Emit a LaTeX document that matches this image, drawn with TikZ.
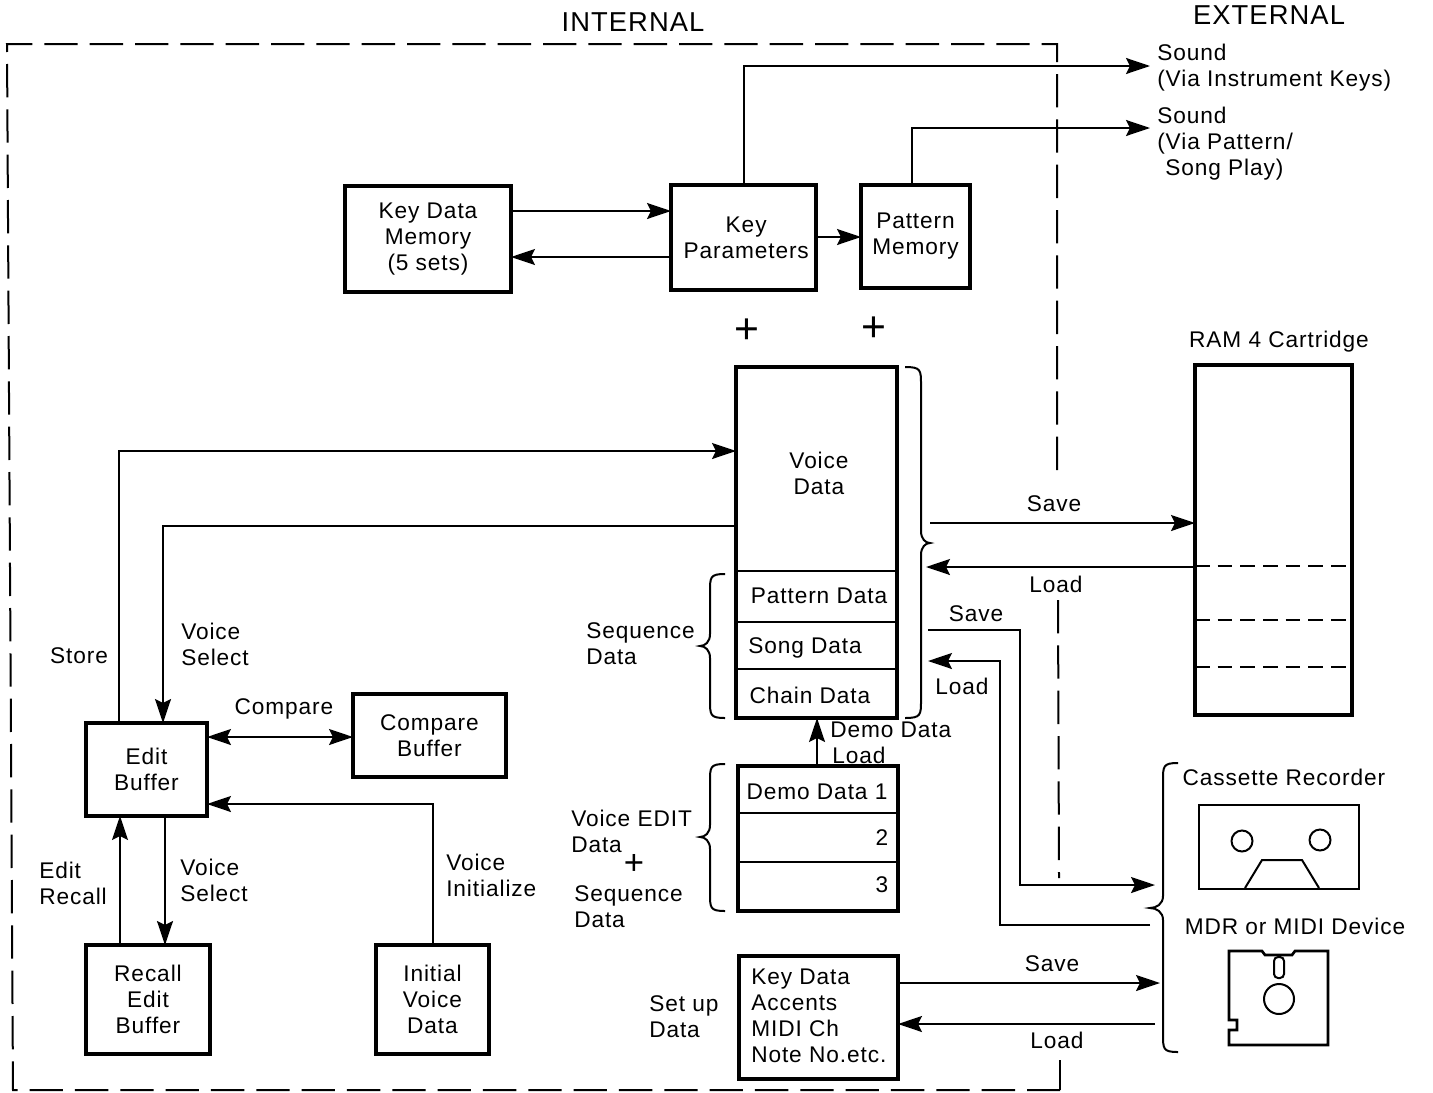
\documentclass[tikz,border=0pt]{standalone}
\usepackage{fontspec}
\setmainfont[LetterSpace=4]{Liberation Sans}
\usetikzlibrary{arrows.meta}
\newcommand{\bxn}[6]{\node[boxs,minimum width={(#4-#2)*0.75pt},minimum height={(#5-#3)*0.75pt}] (#1) at ({(#2+#4)/2},{(#3+#5)/2}) {#6};}
% start x, spine x, tip x, top y, mid y, bottom y
\newcommand{\vbrace}[6]{\draw[brc] (#1,#4) .. controls (#2,#4) and (#2,{#4+3}) .. (#2,{#4+18}) -- (#2,{#5-12}) .. controls (#2,{#5-4}) and ({(#2+#3)/2},#5) .. (#3,#5) .. controls ({(#2+#3)/2},#5) and (#2,{#5+4}) .. (#2,{#5+12}) -- (#2,{#6-18}) .. controls (#2,{#6-3}) and (#2,#6) .. (#1,#6);}
\tikzset{
  txtf/.style={font=\fontsize{17}{19.5}\selectfont},
  boxs/.style={draw,line width=3pt,inner sep=0pt,outer sep=0pt,align=center,txtf},
  lbl/.style={txtf,inner sep=0pt,align=left},
  lblw/.style={lbl,anchor=west},
  wire/.style={line width=1.5pt},
  arr/.style={wire,-{Stealth[length=18pt,width=12pt,inset=3pt]}},
  dbl/.style={wire,{Stealth[length=18pt,width=12pt,inset=3pt]}-{Stealth[length=18pt,width=12pt,inset=3pt]}},
  bound/.style={line width=1.5pt,dash pattern=on 25pt off 9pt},
  divd/.style={line width=1.2pt,dash pattern=on 11pt off 6pt},
  divs/.style={line width=2pt},
  brc/.style={line width=1.5pt},
  hd/.style={font=\fontsize{20.5}{22}\selectfont,inner sep=0pt},
  plusn/.style={font=\fontsize{32}{32}\selectfont,inner sep=0pt}
}
\begin{document}
\begin{tikzpicture}[x=0.75pt,y=-0.75pt]
\useasboundingbox (0,0) rectangle (1433,1092);
% boundary
\coordinate (b1) at (1057,470);
\coordinate (b2) at (1057,44);
\coordinate (b3) at (7,44);
\coordinate (b4) at (13,1090);
\coordinate (b5) at (1060,1090);
\coordinate (b6) at (1060,1060);
\coordinate (b7) at (1058,600);
\coordinate (b8) at (1059,878);
\draw[bound] (b1) -- (b2) -- (b3) -- (b4) -- (b5);
\draw[wire] (b5) -- (b6);
\draw[bound] (b7) -- (b8);
% headings
\node[hd] (internal) at (633,22) {INTERNAL};
\node[hd] (external) at (1269,15) {EXTERNAL};
% boxes
\bxn{kd}{345}{186}{511}{292}{Key Data\\Memory\\(5 sets)}
\bxn{kp}{671}{185}{816}{290}{\hspace*{4pt}Key\\\hspace*{4pt}Parameters}
\bxn{pm}{861}{185}{970}{288}{Pattern\\Memory}
\bxn{vs}{736}{367}{897}{718}{}
\bxn{ds}{738}{766}{898}{911}{}
\bxn{su}{739}{956}{898}{1079}{}
\bxn{eb}{86}{723}{207}{816}{Edit\\Buffer}
\bxn{cb}{353}{694}{506}{777}{Compare\\Buffer}
\bxn{rb}{86}{945}{210}{1054}{Recall\\Edit\\Buffer}
\bxn{iv}{376}{945}{489}{1054}{Initial\\Voice\\Data}
\bxn{ram}{1195}{365}{1352}{715}{}
% stack dividers
\draw[divs] (vs.west |- 0,571) -- (vs.east |- 0,571);
\draw[divs] (vs.west |- 0,622) -- (vs.east |- 0,622);
\draw[divs] (vs.west |- 0,669) -- (vs.east |- 0,669);
\draw[divs] (ds.west |- 0,813) -- (ds.east |- 0,813);
\draw[divs] (ds.west |- 0,862) -- (ds.east |- 0,862);
\draw[divd] (ram.west |- 0,566) -- (ram.east |- 0,566);
\draw[divd] (ram.west |- 0,620) -- (ram.east |- 0,620);
\draw[divd] (ram.west |- 0,667) -- (ram.east |- 0,667);
% stack texts
\node[lbl,align=center] (tvoice) at (819,473) {Voice\\Data};
\node[lbl] (tpat) at (819,596) {Pattern Data};
\node[lbl] (tsong) at (805,648) {Song Data};
\node[lbl] (tchain) at (810,695) {Chain Data};
\node[lbl] (td1) at (817,792) {Demo Data 1};
\node[lbl] (td2) at (882,838) {2};
\node[lbl] (td3) at (882,885) {3};
\node[lblw] (tsu) at (751,1016) {Key Data\\Accents\\MIDI Ch\\Note No.etc.};
% sound arrows
\node[lblw] (s1) at (1157,68) {Sound\\(Via Instrument Keys)};
\node[lblw] (s2) at (1157,144) {Sound\\(Via Pattern/\\\hspace*{6pt}Song Play)};
\coordinate (s1a) at (1150,66);
\coordinate (s2a) at (1150,128);
\draw[arr] (kp.north) |- (s1a);
\draw[arr] (pm.north -| 912,0) |- (s2a);
\draw[arr] (kd.east |- 0,211) -- (kp.west |- 0,211);
\draw[arr] (kp.west |- 0,257) -- (kd.east |- 0,257);
\draw[arr] (kp.east |- 0,237) -- (pm.west |- 0,237);
\node[plusn] (p1) at (747,331) {+};
\node[plusn] (p2) at (874,329) {+};
% left-hand connectors
\draw[arr] (eb.north -| 119,0) |- (vs.west |- 0,451);
\draw[arr] (vs.west |- 0,526) -| (eb.north -| 163,0);
\draw[dbl] (eb.east |- 0,737) -- (cb.west |- 0,737);
\draw[arr] (eb.south -| 165,0) -- (rb.north -| 165,0);
\draw[arr] (rb.north -| 120,0) -- (eb.south -| 120,0);
\draw[arr] (iv.north -| 433,0) |- (eb.east |- 0,804);
\draw[arr] (ds.north -| 817,0) -- (vs.south -| 817,0);
% right-hand connectors
\coordinate (a1) at (930,523);
\coordinate (a2) at (926,567);
\coordinate (a3) at (928,630);
\coordinate (a4) at (1155,885);
\coordinate (a5) at (1150,925);
\coordinate (a6) at (928,661);
\coordinate (a7) at (1160,983);
\coordinate (a8) at (1155,1024);
\coordinate (c1) at (1020,630);
\coordinate (c2) at (1020,885);
\coordinate (c3) at (1000,925);
\coordinate (c4) at (1000,661);
\draw[arr] (a1) -- (ram.west |- a1);
\draw[arr] (ram.west |- a2) -- (a2);
\draw[arr] (a3) -- (c1) -- (c2) -- (a4);
\draw[arr] (a5) -- (c3) -- (c4) -- (a6);
\draw[arr] (su.east |- a7) -- (a7);
\draw[arr] (a8) -- (su.east |- a8);
% braces
\vbrace{905}{921}{930}{367}{543}{718}
\vbrace{725}{710}{700}{574}{646}{718}
\vbrace{725}{710}{700}{764}{837}{911}
\vbrace{1178}{1163}{1150}{763}{908}{1052}
% labels
\node[lbl] (lstore) at (79,656) {Store};
\node[lblw] (lvs1) at (181,644) {Voice\\Select};
\node[lbl] (lcmp) at (284,709) {Compare};
\node[lblw] (ler) at (39,883) {Edit\\Recall};
\node[lblw] (lvs2) at (180,880) {Voice\\Select};
\node[lblw] (lvi) at (446,875) {Voice\\Initialize};
\node[lblw] (lsq) at (586,644) {Sequence\\Data};
\node[lblw] (lve) at (571,831) {Voice EDIT\\Data};
\node[plusn,font=\fontsize{26}{26}\selectfont] (p3) at (634,864) {+};
\node[lblw] (lsq2) at (574,907) {Sequence\\Data};
\node[lblw] (ldd) at (830,730) {Demo Data};
\node[lblw] (ldl) at (832,755) {Load};
\node[lblw] (lsu) at (649,1017) {Set up\\Data};
\node[lbl] (ls1) at (1054,504) {Save};
\node[lbl] (ll1) at (1056,584) {Load};
\node[lbl] (ls2) at (976,614) {Save};
\node[lbl] (ll2) at (962,686) {Load};
\node[lbl] (ls3) at (1052,964) {Save};
\node[lbl] (ll3) at (1057,1040) {Load};
\node[lbl] (lram) at (1279,342) {RAM 4 Cartridge};
\node[lbl] (lcas) at (1284,777) {Cassette Recorder};
\node[lbl] (lmdr) at (1295,926) {MDR or MIDI Device};
% cassette
\draw[line width=2pt] (1199,805) rectangle (1359,889);
\draw[wire] (1242,841) circle (10.5);
\draw[wire] (1320,840) circle (10.5);
\draw[wire] (1245,888) -- (1262,860) -- (1302,860) -- (1319,888);
% disk
\draw[line width=2pt] (1229,951) -- (1262,951) -- (1265,955) -- (1292,955) -- (1295,951) -- (1328,951) -- (1328,1045) -- (1229,1045) -- (1229,1030) -- (1237,1030) -- (1237,1020) -- (1229,1020) -- cycle;
\draw[wire,rounded corners=3pt] (1274,957) rectangle (1284,978);
\draw[wire] (1279,999) circle (15);
\end{tikzpicture}
\end{document}
